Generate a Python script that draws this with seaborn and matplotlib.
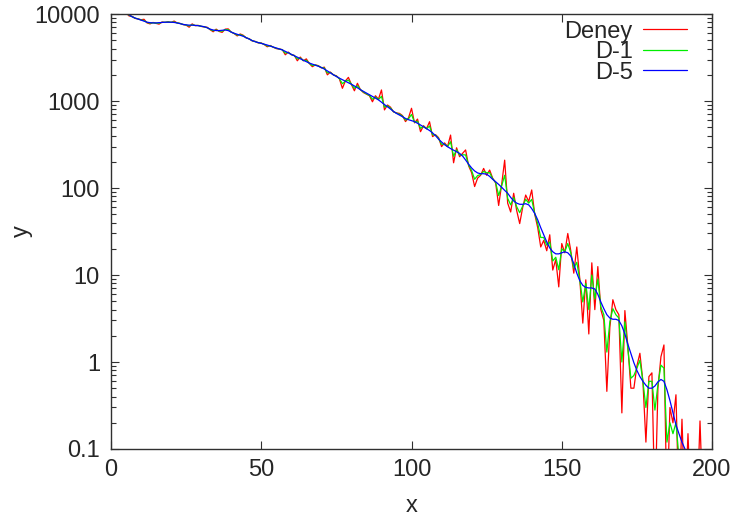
import numpy as np
import pandas as pd
import matplotlib
matplotlib.use("Agg")
import matplotlib.pyplot as plt
import seaborn as sns

sns.set_style("ticks")
plt.rcParams["font.family"] = ["Liberation Sans", "DejaVu Sans"]

# ---------- data (x = 5, 6, 7, ...) ----------

deney = [
    10300, 9500, 9400, 8900, 8800, 8600, 8700, 7900, 7700, 8000,   # 5-14
    7800, 7650, 8100, 8000, 8150, 8000, 8300, 7900, 7800, 7550,    # 15-24
    7450, 7050, 7700, 7350, 7400, 7200, 7100, 7050, 6600, 6250,    # 25-34
    6700, 6300, 6150, 6700, 6750, 6200, 5950, 5600, 5900, 5700,    # 35-44
    5300, 5200, 4900, 4850, 4650, 4650, 4450, 4200, 4350, 4150,    # 45-54
    4000, 3950, 3900, 3400, 3650, 3400, 3350, 2900, 3200, 2900,    # 55-64
    3050, 2700, 2480, 2600, 2550, 2400, 2450, 2000, 2150, 2000,    # 65-74
    1950, 1800, 1400, 1700, 1870, 1550, 1310, 1600, 1350, 1250,    # 75-84
    1200, 1150, 980, 1150, 1050, 1340, 790, 900, 850, 750,         # 85-94
    730, 720, 680, 580, 640, 825, 560, 620, 444, 520,              # 95-104
    480, 578, 390, 410, 380, 299, 330, 300, 406, 195,              # 105-114
    290, 229, 250, 274, 180, 150, 104, 130, 140, 168,              # 115-124
    140, 161, 130, 114, 63, 110, 209, 67, 53, 87,                  # 125-134
    55, 39, 60, 83, 70, 95, 50, 35, 21, 25,                        # 135-144
    19, 29, 11.4, 15, 7.3, 23, 18, 30, 19, 10.5,                   # 145-154
    21, 9, 2.8, 8.8, 2.1, 13.8, 4.0, 12.5, 4.0, 3.0,               # 155-164
    0.46, 2.5, 5.2, 4.0, 3.5, 0.26, 3.9, 1.5, 0.5, 0.5,            # 165-174
    0.9, 1.26, 0.6, 0.12, 0.68, 0.75, 0.02, 0.5, 1.15, 1.57,       # 175-184
    0.02, 0.3, 0.2, 0.42, 0.02, 0.22, 0.02, 0.15, 0.02, 0.02,      # 185-194
    0.02, 0.21, 0.02, 0.02,                                        # 195-198
]

d1 = [
    10400, 9700, 9350, 8950, 8780, 8550, 8400, 8000, 7850, 7930,   # 5-14
    7850, 7850, 8030, 8030, 8100, 8030, 8100, 7900, 7780, 7580,    # 15-24
    7480, 7300, 7520, 7380, 7380, 7230, 7120, 6980, 6650, 6420,    # 25-34
    6550, 6380, 6350, 6620, 6600, 6200, 5980, 5730, 5800, 5620,    # 35-44
    5330, 5170, 4930, 4820, 4680, 4620, 4480, 4300, 4310, 4160,    # 45-54
    4040, 3960, 3880, 3560, 3610, 3420, 3330, 3050, 3120, 2920,    # 55-64
    2930, 2710, 2560, 2590, 2530, 2420, 2390, 2110, 2130, 2000,    # 65-74
    1930, 1810, 1580, 1690, 1740, 1560, 1400, 1500, 1350, 1270,    # 75-84
    1210, 1160, 1050, 1110, 1040, 1130, 850, 880, 830, 755,        # 85-94
    725, 705, 670, 605, 625, 700, 570, 585, 485, 512,              # 95-104
    480, 515, 410, 405, 372, 318, 320, 299, 340, 232,              # 105-114
    275, 240, 241, 240, 184, 159, 126, 139, 143, 155,              # 115-124
    150, 150, 128, 116, 82, 106, 140, 76, 64, 78,                  # 125-134
    61, 52, 62, 74, 67, 74, 51, 39, 27, 27,                        # 135-144
    22, 24, 14.5, 16, 11.5, 20, 18.5, 23, 18, 12,                  # 145-154
    14, 8.7, 4.9, 8, 4.0, 10, 5.3, 9, 4.3, 3.5,                    # 155-164
    1.3, 2.9, 4.1, 3.5, 3.2, 1.0, 2.9, 1.4, 0.65, 0.7,             # 165-174
    0.85, 1.05, 0.6, 0.3, 0.6, 0.6, 0.28, 0.55, 0.92, 0.85,        # 175-184
    0.12, 0.2, 0.15, 0.2, 0.08, 0.09, 0.05,                        # 185-191
]

d5 = [
    10500, 9800, 9300, 9000, 8750, 8500, 8250, 8050, 7950, 7900,   # 5-14
    7900, 7950, 8000, 8050, 8050, 8050, 8000, 7900, 7750, 7600,    # 15-24
    7500, 7450, 7450, 7400, 7350, 7250, 7150, 6950, 6700, 6550,    # 25-34
    6450, 6450, 6500, 6550, 6450, 6200, 6000, 5850, 5700, 5550,    # 35-44
    5350, 5150, 4950, 4800, 4700, 4600, 4500, 4400, 4280, 4170,    # 45-54
    4070, 3970, 3870, 3720, 3580, 3440, 3310, 3190, 3060, 2940,    # 55-64
    2830, 2730, 2650, 2580, 2510, 2430, 2330, 2220, 2110, 2000,    # 65-74
    1910, 1830, 1760, 1690, 1620, 1560, 1490, 1420, 1350, 1290,    # 75-84
    1230, 1180, 1130, 1080, 1030, 970, 910, 860, 810, 760,         # 85-94
    720, 690, 660, 630, 610, 595, 580, 555, 530, 505,              # 95-104
    480, 458, 430, 400, 365, 338, 315, 298, 284, 272,              # 105-114
    261, 250, 233, 210, 188, 170, 157, 149, 146, 146,              # 115-124
    144, 136, 126, 118, 110, 102, 94, 87, 78, 71,                  # 125-134
    67, 65, 65, 66, 64, 58, 51, 43, 35, 29,                        # 135-144
    24, 20.5, 18.5, 17.5, 17.5, 18, 18.5, 18, 16.5, 13.5,          # 145-154
    10.5, 8.6, 7.6, 7.2, 7.1, 7.1, 6.9, 6.0, 4.9, 4.1,             # 155-164
    3.5, 3.2, 3.1, 3.1, 3.0, 2.6, 2.1, 1.6, 1.25, 0.98,            # 165-174
    0.8, 0.68, 0.6, 0.54, 0.5, 0.5, 0.53, 0.59, 0.63, 0.6,         # 175-184
    0.48, 0.36, 0.26, 0.19, 0.15, 0.12, 0.1, 0.085, 0.07,          # 185-193
]

X_START = 5
series = [
    ("Deney", deney, "#ff0000"),
    ("D-1", d1, "#00ee00"),
    ("D-5", d5, "#0000ff"),
]

# ---------- plot ----------

fig, ax = plt.subplots(figsize=(7.38, 5.21), dpi=100)
fig.subplots_adjust(left=0.1504, right=0.9648, top=0.9731, bottom=0.1382)
ax.set_yscale("log")

for name, vals, color in series:
    df = pd.DataFrame({"x": np.arange(X_START, X_START + len(vals)), "y": vals})
    sns.lineplot(data=df, x="x", y="y", ax=ax, color=color, linewidth=0.9,
                 label=name, estimator=None, sort=False)

ax.set_xlim(0, 200)
ax.set_ylim(0.1, 10000)
ax.set_xticks([0, 50, 100, 150, 200])
ax.set_yticks([0.1, 1, 10, 100, 1000, 10000])
ax.set_yticklabels(["0.1", "1", "10", "100", "1000", "10000"])

ax.tick_params(axis="both", which="both", direction="in", top=True, right=True,
               labelsize=17, color="#303030")
ax.tick_params(axis="both", which="major", length=6, width=0.8)
ax.tick_params(axis="y", which="minor", length=3.5, width=0.8)
ax.tick_params(axis="x", which="major", pad=7)
ax.tick_params(axis="y", which="major", pad=8)

for sp in ax.spines.values():
    sp.set_color("#303030")
    sp.set_linewidth(1.0)

ax.set_xlabel("x", fontsize=17, labelpad=10)
ax.set_ylabel("y", fontsize=17, labelpad=1)

leg = ax.legend(loc="upper right", bbox_to_anchor=(0.9584, 0.985),
                markerfirst=False, frameon=False, fontsize=17,
                handlelength=1.85, handletextpad=0.45, labelspacing=-0.06,
                borderpad=0.0, borderaxespad=0.0)

fig.savefig("out.png", dpi=100)
